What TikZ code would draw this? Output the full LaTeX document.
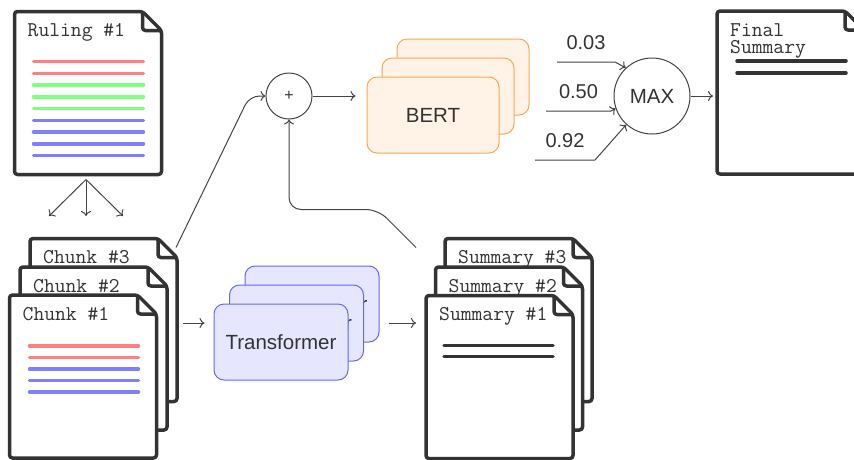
\documentclass[tikz,border=0pt]{standalone}
\usepackage{fontspec}
\setsansfont{Liberation Sans}
\usetikzlibrary{arrows.meta, positioning, calc}

\definecolor{inkgray}{HTML}{333333}
\definecolor{wiregray}{HTML}{444444}
\definecolor{rulered}{HTML}{FF8080}
\definecolor{rulegreen}{HTML}{80FF80}
\definecolor{ruleblue}{HTML}{8080FF}
\definecolor{bertfill}{HTML}{FFF2E6}
\definecolor{bertline}{HTML}{FFA64D}
\definecolor{trfill}{HTML}{E6E6FF}
\definecolor{trline}{HTML}{6666FF}

\tikzset{
  docbox/.style={rectangle, inner sep=0pt, outer sep=0pt, minimum width=147pt, minimum height=163pt},
  docline/.style={draw=inkgray, line width=3.5pt, rounded corners=3pt, line join=round},
  doctext/.style={anchor=base west, inner sep=0pt, text=inkgray, font=\ttfamily\fontsize{21}{24}\selectfont},
  ruleline/.style={line width=3.5pt, line cap=round},
  docpage/.pic={
    \node[docbox] (-box) {};
    \draw[docline, fill=white] (-box.north west) -- ([xshift=-19pt]-box.north east) -- ([yshift=-19pt]-box.north east) -- (-box.south east) -- (-box.south west) -- cycle;
    \draw[docline] ([xshift=-19pt]-box.north east) -- ([shift={(-19pt,-19pt)}]-box.north east) -- ([yshift=-19pt]-box.north east);
    \node[doctext] (-title) at ([shift={(13pt,-25pt)}]-box.north west) {#1};
  }
}

\begin{document}
\begin{tikzpicture}[
    x=1pt, y=1pt,
    bertbox/.style={rectangle, rounded corners=10pt, draw=bertline, fill=bertfill, line width=1pt, minimum width=132pt, minimum height=76pt, text=inkgray, font=\sffamily\fontsize{20.5}{24}\selectfont},
    trbox/.style={rectangle, rounded corners=10pt, draw=trline, fill=trfill, line width=1pt, minimum width=134pt, minimum height=76pt, text=inkgray, font=\sffamily\fontsize{20.5}{24}\selectfont},
    opnode/.style={circle, draw=wiregray, line width=1pt, fill=white, inner sep=0pt, text=inkgray, font=\sffamily\fontsize{20.5}{24}\selectfont},
    numlbl/.style={above=12pt, inner sep=0pt, text=inkgray, font=\sffamily\fontsize{20}{24}\selectfont},
    conn/.style={draw=wiregray, line width=1pt, -{To[length=5pt, width=10pt]}}
]
\useasboundingbox (0,0) rectangle (854,-459);

% source ruling
\pic (ruling) at (88,-93) {docpage={Ruling \#1}};
\foreach \c [count=\i from 0] in {rulered,rulered,rulegreen,rulegreen,rulegreen,ruleblue,ruleblue,ruleblue,ruleblue}
  \draw[ruleline, \c] ([shift={(19pt,-50pt-\i*11.75pt)}]ruling-box.north west) -- ++(110pt,0);

\coordinate (fork) at ([shift={(-2pt,-5pt)}]ruling-box.south);
\coordinate (forkL) at (49,-216);
\coordinate (forkM) at (86,-216);
\coordinate (forkR) at (123,-216);
\foreach \e in {forkL,forkM,forkR}
  \draw[conn] (fork) -- (\e);

% chunks
\pic (chunkC) at (103.5,-320) {docpage={Chunk \#3}};
\pic (chunkB) at (93.5,-348.5) {docpage={Chunk \#2}};
\pic (chunkA) at (83,-376.5) {docpage={Chunk \#1}};
\foreach \c [count=\i from 0] in {rulered,rulered,ruleblue,ruleblue,ruleblue}
  \draw[ruleline, \c] ([shift={(20pt,-51pt-\i*11.5pt)}]chunkA-box.north west) -- ++(109pt,0);

% transformers
\node[trbox] (trC) at (312,-304) {Transformer};
\node[trbox] (trB) at ([shift={(-15.5pt,-19pt)}]trC) {Transformer};
\node[trbox] (trA) at ([shift={(-15.5pt,-19pt)}]trB) {Transformer};

% summaries
\pic (summaryC) at (518.5,-320) {docpage={Summary \#3}};
\pic (summaryB) at (509,-348.5) {docpage={Summary \#2}};
\pic (summaryA) at (499.5,-377) {docpage={Summary \#1}};
\foreach \i in {0,1}
  \draw[ruleline, inkgray] ([shift={(18pt,-50pt-\i*11pt)}]summaryA-box.north west) -- ++(109pt,0);

% top row
\node[opnode, minimum size=46pt, font=\sffamily\fontsize{16}{18}\selectfont] (plus) at (289,-96) {+};

\node[bertbox] (bertC) at (463,-77) {BERT};
\node[bertbox] (bertB) at ([shift={(-15pt,-19pt)}]bertC) {BERT};
\node[bertbox] (bertA) at ([shift={(-15pt,-19pt)}]bertB) {BERT};

\node[opnode, minimum size=76pt] (max) at (652,-96) {MAX};

\pic (final) at (790.5,-92.5) {docpage={Final}};
\node[doctext] (finalSub) at ([yshift=-17pt]final-title.base west) {Summary};
\foreach \i in {0,1}
  \draw[ruleline, inkgray] ([shift={(20pt,-50pt-\i*12pt)}]final-box.north west) -- ++(109pt,0);

% connectors
\draw[conn] ([xshift=6pt]chunkC-box.east |- trB.west) -- ([xshift=-9pt]trA.west |- trB.west);
\draw[conn] ([xshift=9pt]trC.east |- trB.east) -- ([xshift=-10pt]summaryA-box.west |- trB.east);
\draw[conn, rounded corners=10pt] ([shift={(-1pt,-9pt)}]chunkC-box.north east) -- ([xshift=-16pt]plus.west) -- (plus.west);
\draw[conn, rounded corners=12pt] ([shift={(-29pt,-9pt)}]summaryC-box.north west) -- ++(-38pt,38pt) -| (plus.south);
\draw[conn] (plus.east) -- ([xshift=-11pt]bertA.west |- plus.east);

\coordinate (scoreA) at (557,-62);
\coordinate (scoreB) at (546,-111);
\coordinate (scoreC) at (535,-160);
\draw[conn] (scoreA) -- node[numlbl] {0.03} ++(58pt,0) -- (max.133);
\draw[conn] (scoreB) -- node[numlbl] {0.50} ++(65pt,0) -- (max.199);
\draw[conn] (scoreC) -- node[numlbl] {0.92} ++(60pt,0) -- (max.228);
\draw[conn] (max.east) -- ([xshift=-4pt]final-box.west |- max.east);
\end{tikzpicture}
\end{document}
